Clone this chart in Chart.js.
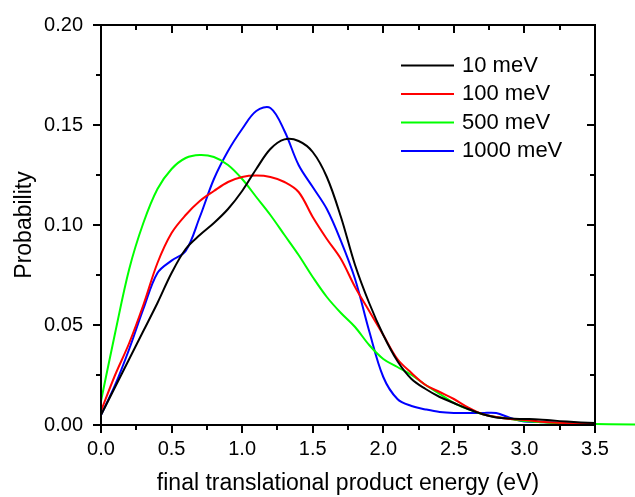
<!DOCTYPE html>
<html>
<head>
<meta charset="utf-8">
<script src="https://cdn.jsdelivr.net/npm/chart.js@4"></script>
<style>
  body { margin: 0; background: #fff; }
  #wrap { width: 635px; height: 497px; }
</style>
</head>
<body>
<div id="wrap"><canvas id="chart" width="635" height="497"></canvas></div>
<script>
// Energy grid (eV) and probability for each collision energy
const energy = [0, 0.1, 0.2, 0.3, 0.4, 0.5, 0.6, 0.7, 0.8, 0.9, 1.0, 1.1, 1.2, 1.3, 1.4, 1.5,
  1.6, 1.7, 1.8, 1.9, 2.0, 2.1, 2.2, 2.3, 2.4, 2.5, 2.6, 2.7, 2.8, 2.9, 3.0, 3.1, 3.2, 3.3, 3.4, 3.5];

const p10 = [0.005, 0.019, 0.033, 0.047, 0.061, 0.076, 0.088, 0.095, 0.101, 0.108, 0.117, 0.128,
  0.138, 0.1428, 0.142, 0.1365, 0.124, 0.104, 0.080, 0.061, 0.045, 0.032, 0.023, 0.018, 0.014,
  0.011, 0.008, 0.0055, 0.0038, 0.0032, 0.003, 0.0028, 0.0022, 0.0017, 0.0013, 0.001];

const p100 = [0.007, 0.025, 0.041, 0.060, 0.081, 0.096, 0.105, 0.112, 0.117, 0.1215, 0.124, 0.1247,
  0.124, 0.1215, 0.1165, 0.104, 0.093, 0.083, 0.069, 0.057, 0.045, 0.033, 0.026, 0.020, 0.0165,
  0.013, 0.0088, 0.0055, 0.004, 0.003, 0.0025, 0.0018, 0.0012, 0.0009, 0.0007, 0.0005];

// 500 meV stops at 3.4 here and carries on past the frame through tailX
const p500 = [0.012, 0.046, 0.078, 0.101, 0.118, 0.128, 0.1335, 0.135, 0.134, 0.130, 0.123, 0.114,
  0.105, 0.095, 0.085, 0.074, 0.064, 0.056, 0.049, 0.040, 0.033, 0.029, 0.025, 0.020, 0.0155,
  0.011, 0.008, 0.0055, 0.004, 0.003, 0.002, 0.0015, 0.001, 0.0008, 0.0006];
const tailX = [3.8];
const tail500 = [0.0003];

const p1000 = [0.005, 0.020, 0.038, 0.058, 0.076, 0.0822, 0.087, 0.104, 0.123, 0.137, 0.148, 0.157,
  0.1585, 0.147, 0.130, 0.119, 0.108, 0.092, 0.073, 0.047, 0.024, 0.013, 0.0095, 0.0078, 0.0065,
  0.006, 0.006, 0.006, 0.006, 0.0035, 0.0018, 0.0015, 0.0012, 0.0009, 0.0007, 0.0005];

const labels = ['10 meV', '100 meV', '500 meV', '1000 meV'];
const colors = ['#000000', '#ff0000', '#00ff00', '#0000ff'];

const xTicks = [0, 0.5, 1.0, 1.5, 2.0, 2.5, 3.0, 3.5];
const yTicks = [0, 0.05, 0.10, 0.15, 0.20];

function pts(xs, ys) {
  return ys.map((y, i) => ({ x: xs[i], y: y }));
}

const series = [p10, p100, p500, p1000];
const datasets = series.map((ys, i) => ({
  label: labels[i],
  data: i === 2 ? pts(energy.slice(0, ys.length).concat(tailX), ys.concat(tail500)) : pts(energy, ys),
  borderColor: colors[i],
  borderWidth: 2,
  pointRadius: 0,
  fill: false,
  tension: 0.35,
  clip: i === 2 ? false : 0
}));

// frame with Origin-style ticks, plus the legend inside the plot
const framePlugin = {
  id: 'frame',
  afterDraw(chart) {
    const ctx = chart.ctx;
    const a = chart.chartArea;
    const xs = chart.scales.x, ys = chart.scales.y;
    ctx.save();
    ctx.strokeStyle = '#000';
    ctx.lineWidth = 2;
    ctx.strokeRect(a.left, a.top, a.right - a.left, a.bottom - a.top);

    function xTick(v, len) {
      const px = Math.round(xs.getPixelForValue(v));
      ctx.beginPath();
      ctx.moveTo(px, a.bottom); ctx.lineTo(px, a.bottom + len);
      ctx.moveTo(px, a.top); ctx.lineTo(px, a.top + len);
      ctx.stroke();
    }
    function yTick(v, len) {
      const py = Math.round(ys.getPixelForValue(v));
      ctx.beginPath();
      ctx.moveTo(a.left, py); ctx.lineTo(a.left - len, py);
      ctx.moveTo(a.right, py); ctx.lineTo(a.right - len, py);
      ctx.stroke();
    }
    xTicks.forEach((v, i) => {
      xTick(v, 8);
      if (i < xTicks.length - 1) xTick((v + xTicks[i + 1]) / 2, 5);
    });
    yTicks.forEach((v, i) => {
      yTick(v, 8);
      if (i < yTicks.length - 1) yTick((v + yTicks[i + 1]) / 2, 5);
    });

    // legend
    ctx.font = '22px Arial, "Liberation Sans", sans-serif';
    ctx.textBaseline = 'middle';
    ctx.textAlign = 'left';
    chart.data.datasets.forEach((ds, i) => {
      const y = 65.5 + i * 28.5;
      ctx.strokeStyle = ds.borderColor;
      ctx.lineWidth = 2;
      ctx.beginPath();
      ctx.moveTo(401, y); ctx.lineTo(454, y);
      ctx.stroke();
      ctx.fillStyle = '#000';
      ctx.fillText(ds.label, 462, y);
    });
    ctx.restore();
  }
};

new Chart(document.getElementById('chart'), {
  type: 'line',
  data: { datasets: datasets },
  options: {
    responsive: false,
    animation: false,
    layout: { padding: { top: 25, right: 40, left: 0, bottom: 0 } },
    plugins: { legend: { display: false }, tooltip: { enabled: false } },
    scales: {
      x: {
        type: 'linear',
        min: 0,
        max: 3.5,
        grid: { display: false },
        border: { display: false },
        afterFit(scale) { scale.height = 72; },
        ticks: {
          stepSize: 0.5,
          padding: 4,
          color: '#000',
          font: { family: 'Arial, "Liberation Sans", sans-serif', size: 20 },
          maxRotation: 0,
          callback: v => v.toFixed(1)
        },
        title: {
          display: true,
          text: 'final translational product energy (eV)',
          color: '#000',
          font: { family: 'Arial, "Liberation Sans", sans-serif', size: 23 },
          padding: { top: 0, bottom: 0 }
        }
      },
      y: {
        min: 0,
        max: 0.2,
        grid: { display: false },
        border: { display: false },
        afterFit(scale) { scale.width = 101; },
        ticks: {
          stepSize: 0.05,
          padding: 10,
          color: '#000',
          font: { family: 'Arial, "Liberation Sans", sans-serif', size: 20 },
          callback: v => v.toFixed(2)
        },
        title: {
          display: true,
          text: 'Probability',
          color: '#000',
          font: { family: 'Arial, "Liberation Sans", sans-serif', size: 23 },
          padding: { top: 11, bottom: 0 }
        }
      }
    }
  },
  plugins: [framePlugin]
});
</script>
</body>
</html>
